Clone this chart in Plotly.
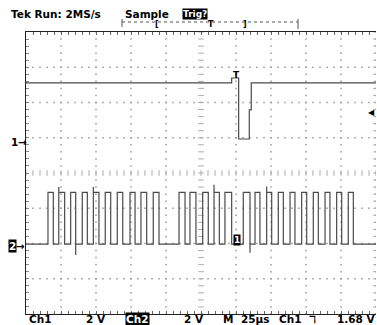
import numpy as np
import plotly.graph_objects as go

# ---------------- data ----------------
us_per_div = 25          # M 25us
ch1_volts_per_div = 2    # Ch1 2 V
ch2_volts_per_div = 2    # Ch2 2 V
ch1_pos_div = 0.88       # ground marker of Ch1 (divisions above centre)
ch2_pos_div = -2.06      # ground marker of Ch2
trig_level_v = 1.68      # Ch1 falling-edge trigger level
trig_time_us = 25.7      # trigger position marker

ch1_t_us = [-125, 21.9, 21.9, 26.9, 26.9, 34.5, 34.5, 35.9, 35.9, 125]
ch1_v = [3.35, 3.35, 3.63, 3.63, 0.17, 0.17, 1.82, 1.82, 3.35, 3.35]

ch2_rise_us = [-109.3, -101.6, -93.1, -84.8, -76.9, -68.4, -59.8, -50.7, -42.9,
               -34.1, -15.7, -7.9, 1.2, 9.3, 17.1, 30.2, 38.6, 46.9, 55.2, 63.6,
               71.9, 80.2, 88.6, 96.9, 105.2]
ch2_fall_us = [-105.5, -97.4, -89.5, -81.2, -72.9, -64.5, -55.9, -47.1, -38.8,
               -30.0, -11.4, -3.6, 5.2, 13.1, 21.9, 35.0, 42.1, 50.5, 58.8, 67.1,
               75.5, 83.8, 92.1, 100.5, 108.8]
ch2_high_v = 3.02
ch2_low_v = 0.08
ch2_overshoot_pulse = [1, 4, 13, 17]
ch2_overshoot_v = [3.33, 3.33, 3.45, 3.35]
ch2_undershoot_pulse = [2, 15]
ch2_undershoot_v = [-0.53, -0.40]

bottom_labels = ["Ch1", "2 V", "Ch2", "2 V", "M", "25\u00b5s", "Ch1", "\u2138", "1.68 V"]
top_labels = ["Tek Run: 2MS/s", "Sample", "Trig?"]

# ---------------- figure geometry ----------------
W, H = 377, 325
L, R, T, B = 26, 1, 32, 11
PW, PH = W - L - R, H - T - B
X_RANGE = [-5 * us_per_div, 5 * us_per_div]
Y_RANGE = [-4, 4]


def px(x):   # pixel -> paper x
    return (x - L) / PW


def py(y):   # pixel -> paper y
    return (H - B - y) / PH


# ---------------- build traces ----------------
ch1_y = [ch1_pos_div + v / ch1_volts_per_div for v in ch1_v]

over = dict(zip(ch2_overshoot_pulse, ch2_overshoot_v))
under = dict(zip(ch2_undershoot_pulse, ch2_undershoot_v))
c2x, c2v = [X_RANGE[0]], [ch2_low_v]
for i, (r, f) in enumerate(zip(ch2_rise_us, ch2_fall_us)):
    if i in over:
        c2x += [r, r, r]
        c2v += [ch2_low_v, over[i], ch2_high_v]
    else:
        c2x += [r, r]
        c2v += [ch2_low_v, ch2_high_v]
    if i in under:
        c2x += [f, f, f]
        c2v += [ch2_high_v, under[i], ch2_low_v]
    else:
        c2x += [f, f]
        c2v += [ch2_high_v, ch2_low_v]
c2x.append(X_RANGE[1])
c2v.append(ch2_low_v)
ch2_y = [ch2_pos_div + v / ch2_volts_per_div for v in c2v]

fig = go.Figure()

# graticule dots
sub = np.round(np.arange(-4, 4.001, 0.2), 3)
subx = np.round(np.arange(-5, 5.001, 0.2), 3)
gx, gy = [], []
for k in list(range(-4, 6)):
    if k == 0:
        continue
    gx += [k * us_per_div] * len(sub)
    gy += list(sub)
for j in range(-3, 4):
    if j == 0:
        continue
    gx += list(subx * us_per_div)
    gy += [j] * len(subx)
fig.add_trace(go.Scatter(x=gx, y=gy, mode="markers", hoverinfo="skip",
                         marker=dict(symbol="square", size=1.5, color="#999",
                                     line=dict(width=0))))
# centre axes with sub-division ticks
fig.add_trace(go.Scatter(x=list(subx * us_per_div), y=[0] * len(subx), mode="markers",
                         hoverinfo="skip",
                         marker=dict(symbol="line-ns", size=4, color="#aaa",
                                     line=dict(width=1, color="#aaa"))))
fig.add_trace(go.Scatter(x=[0] * len(sub), y=list(sub), mode="markers", hoverinfo="skip",
                         marker=dict(symbol="line-ew", size=4, color="#aaa",
                                     line=dict(width=1, color="#aaa"))))
# right edge ticks
fig.add_trace(go.Scatter(x=[X_RANGE[1]] * len(sub), y=list(sub), mode="markers",
                         hoverinfo="skip",
                         marker=dict(symbol="line-ew", size=4, color="#aaa",
                                     line=dict(width=1, color="#aaa"))))

# waveforms
fig.add_trace(go.Scatter(x=ch1_t_us, y=ch1_y, mode="lines", name="Ch1",
                         line=dict(color="#4a4a4a", width=1.2)))
fig.add_trace(go.Scatter(x=c2x, y=ch2_y, mode="lines", name="Ch2",
                         line=dict(color="#4a4a4a", width=1.2)))

FONT = "DejaVu Sans"
ann = []


def txt(text, x, y, xanchor="left", size=10.5, inv=False, xref="paper", yref="paper",
        yanchor="middle", bold=True):
    ann.append(dict(text=("<b>%s</b>" % text) if bold else text, x=x, y=y,
                    xref=xref, yref=yref, xanchor=xanchor,
                    yanchor=yanchor, showarrow=False,
                    font=dict(family=FONT, size=size, color="white" if inv else "black"),
                    bgcolor="black" if inv else None, borderpad=0))


# top status line
txt(top_labels[0], px(10), py(13.5))
txt(top_labels[1], px(124), py(13.5))
txt(top_labels[2], px(182), py(13.5), inv=True, size=9)

# record bar
shapes = [
    dict(type="line", xref="paper", yref="paper", x0=px(122), x1=px(298),
         y0=py(22), y1=py(22), line=dict(color="#555", width=1, dash="dot")),
    dict(type="line", xref="paper", yref="paper", x0=px(122), x1=px(122),
         y0=py(19), y1=py(27), line=dict(color="#555", width=1)),
    dict(type="line", xref="paper", yref="paper", x0=px(298), x1=px(298),
         y0=py(19), y1=py(29), line=dict(color="#555", width=1)),
]
txt("[", px(157), py(24.5), xanchor="center", size=8)
txt("T", px(211), py(24.5), xanchor="center", size=8)
txt("]", px(245), py(24.5), xanchor="center", size=8)

# bottom readout
bx = [28, 85, 125, 183, 222, 240, 278, 308, 377]
for i, (lab, x) in enumerate(zip(bottom_labels, bx)):
    txt(lab, px(x), py(319), xanchor="right" if i == len(bx) - 1 else "left",
        inv=(lab == "Ch2"))

# channel ground markers and trigger level
txt("1\u2192", px(10), ch1_pos_div, yref="y")
txt("2", px(8), ch2_pos_div, yref="y", inv=True)
txt("\u2192", px(15), ch2_pos_div, yref="y")
txt("\u25c0", 1.0, ch1_pos_div + trig_level_v / ch1_volts_per_div, yref="y",
    xanchor="right", size=8, bold=False)
# trigger marker on Ch1 and marker on Ch2
txt("T", trig_time_us, 2.79, xref="x", yref="y", xanchor="center", size=9)
txt("1", trig_time_us, -1.9, xref="x", yref="y", xanchor="center", size=9, inv=True)

fig.update_layout(
    width=W, height=H, margin=dict(l=L, r=R, t=T, b=B, autoexpand=False),
    paper_bgcolor="white", plot_bgcolor="white", showlegend=False,
    annotations=ann, shapes=shapes,
    xaxis=dict(range=X_RANGE, showgrid=False, zeroline=False, showticklabels=False,
               showline=True, linecolor="#222", linewidth=1, mirror="ticks",
               ticks="inside", tickmode="linear", tick0=0, dtick=us_per_div / 5,
               ticklen=3, tickcolor="#666", fixedrange=True),
    yaxis=dict(range=Y_RANGE, showgrid=False, zeroline=False, showticklabels=False,
               showline=True, linecolor="#222", linewidth=1, mirror=False,
               ticks="inside", tickmode="linear", tick0=0, dtick=0.2,
               ticklen=3, tickcolor="#888", fixedrange=True),
)

fig.write_html("out.html", config={"displayModeBar": False},
               post_script="document.body.style.margin='0';"
                           "document.body.style.overflow='hidden';")
